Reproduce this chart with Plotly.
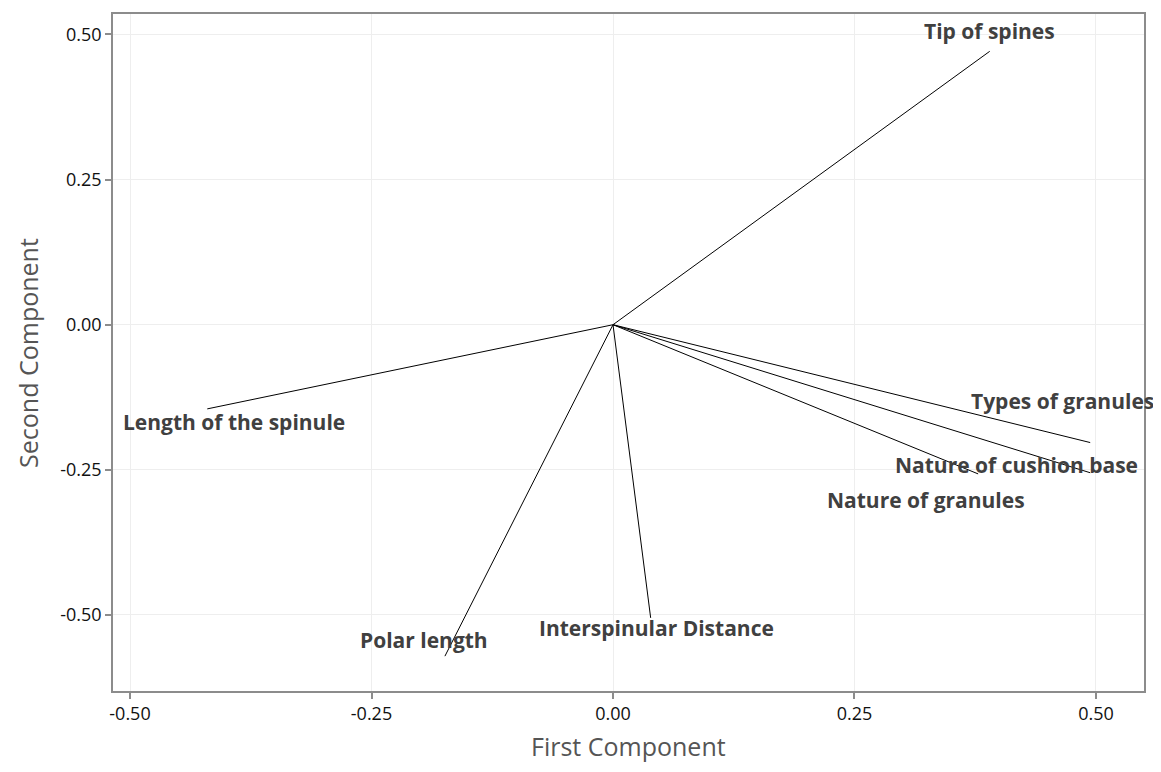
import plotly.graph_objects as go

variables = ["Tip of spines", "Length of the spinule", "Types of granules",
             "Nature of cushion base", "Nature of granules", "Polar length",
             "Interspinular Distance"]
pc1 = [0.390, -0.420, 0.494, 0.494, 0.378, -0.174, 0.039]
pc2 = [0.471, -0.145, -0.203, -0.255, -0.257, -0.571, -0.505]

# label pixel offsets (style, not data)
label_shift = [(0, 20), (27, -13), (-28, 42), (-74, 8), (-52, -26), (-21, 16), (6, -10)]

tick_vals = [-0.5, -0.25, 0.0, 0.25, 0.5]
tick_text = ["-0.50", "-0.25", "0.00", "0.25", "0.50"]

fig = go.Figure()
for name, x, y in zip(variables, pc1, pc2):
    fig.add_trace(go.Scatter(x=[0, x], y=[0, y], mode="lines",
                             line=dict(color="black", width=1),
                             showlegend=False, hoverinfo="skip"))

for (name, x, y), (dx, dy) in zip(zip(variables, pc1, pc2), label_shift):
    fig.add_annotation(x=x, y=y, text="<b>%s</b>" % name, showarrow=False,
                       xshift=dx, yshift=dy,
                       font=dict(family="Open Sans", size=21, color="#404040"))

title_font = dict(family="Open Sans", size=25, color="#555555")
fig.add_annotation(text="First Component", xref="paper", yref="paper",
                   x=0.5, y=-0.081, xanchor="center", yanchor="middle",
                   showarrow=False, font=title_font)
fig.add_annotation(text="Second Component", xref="paper", yref="paper",
                   x=-0.083, y=0.5, xanchor="center", yanchor="middle",
                   textangle=-90, showarrow=False, font=title_font)

axis_common = dict(showgrid=True, gridcolor="#eeeeee", gridwidth=1,
                   zeroline=False, showline=True, linecolor="#8c8c8c", linewidth=1.5,
                   mirror=True, ticks="outside", ticklen=6, tickcolor="#8c8c8c",
                   tickwidth=1.5, tickvals=tick_vals, ticktext=tick_text,
                   tickfont=dict(family="Open Sans", size=18, color="#111111"))

fig.update_layout(
    width=1145, height=756,
    margin=dict(l=105, r=9, t=6, b=73, autoexpand=False),
    plot_bgcolor="white", paper_bgcolor="white",
    xaxis=dict(range=[-0.5176, 0.5497], **axis_common),
    yaxis=dict(range=[-0.631, 0.5353], **axis_common),
)

fig.write_html("out.html")
